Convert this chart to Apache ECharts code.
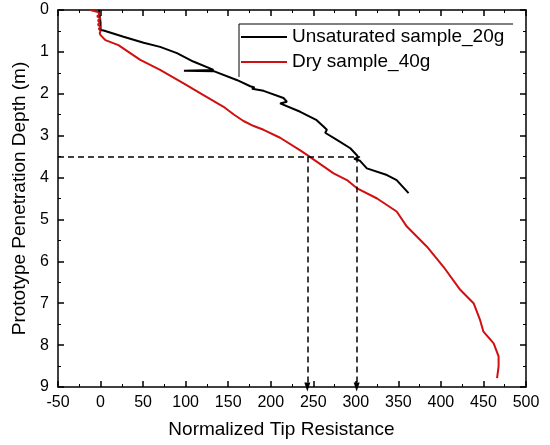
<!DOCTYPE html>
<html>
<head>
<meta charset="utf-8">
<script src="https://cdn.jsdelivr.net/npm/echarts@6/dist/echarts.min.js"></script>
<style>html,body{margin:0;padding:0;background:#fff;}#c{width:550px;height:445px;}</style>
</head>
<body>
<div id="c"></div>
<script>
// ---- data ----
const unsatName = 'Unsaturated sample_20g';
const dryName = 'Dry sample_40g';
const unsatX = [-2, 0, 0, 3.6, 27, 50.6, 70, 89.8, 109, 132.8, 98, 133, 160, 176, 181, 178, 191.6, 215, 219, 211, 234.7, 254, 262, 266, 264, 277.8, 293.5, 301, 303, 298, 305, 313, 336.6, 348, 362];
const unsatY = [0, 0.3, 0.48, 0.49, 0.64, 0.78, 0.88, 1.03, 1.23, 1.43, 1.45, 1.46, 1.67, 1.82, 1.85, 1.88, 1.93, 2.1, 2.19, 2.23, 2.43, 2.63, 2.78, 2.86, 2.93, 3.10, 3.30, 3.46, 3.52, 3.55, 3.6, 3.78, 3.94, 4.06, 4.37];
const dryX = [-12, -3, -1, -4, 0, -3, -1, -3, 0, -2, 0, -1, 0, 5.7, 21, 46.7, 70, 97.6, 121, 144.6, 157, 168, 180, 191.6, 211, 234.7, 242.6, 273.9, 289.6, 301, 325, 348, 360, 383.6, 403, 422.7, 438.4, 446, 450, 462, 467.8, 467.8, 466];
const dryY = [0, 0.05, 0.1, 0.15, 0.2, 0.25, 0.3, 0.35, 0.4, 0.45, 0.5, 0.55, 0.6, 0.72, 0.84, 1.19, 1.43, 1.75, 2.03, 2.31, 2.5, 2.65, 2.77, 2.86, 3.05, 3.35, 3.46, 3.90, 4.06, 4.25, 4.5, 4.81, 5.17, 5.65, 6.13, 6.68, 7.0, 7.40, 7.68, 7.96, 8.27, 8.51, 8.79];
const refDepth = 3.5;        // horizontal dashed reference depth
const refHLineEndX = 305;    // where horizontal dashed line ends
const refResistances = [243, 301]; // vertical dashed lines
const xMin = -50, xMax = 500, xStep = 50;
const yMin = 0, yMax = 9, yStep = 1;

const zip = (xs, ys) => xs.map((x, i) => [x, ys[i]]);
const font = 'Liberation Sans, Arial, sans-serif';

const chart = echarts.init(document.getElementById('c'));
const axisCommon = {
  type: 'value',
  axisLine: { show: true, onZero: false, lineStyle: { color: '#000', width: 1.5 } },
  axisTick: { show: true, inside: true, length: 6, lineStyle: { color: '#000', width: 1.5 } },
  minorTick: { show: true, splitNumber: 2, length: 3, lineStyle: { color: '#000', width: 1 } },
  splitLine: { show: false },
  minorSplitLine: { show: false }
};

const markData = [
  [{ coord: [xMin, refDepth], symbol: 'none' }, { coord: [refHLineEndX, refDepth], symbol: 'none' }]
].concat(refResistances.map(r => [
  { coord: [r, refDepth], symbol: 'none' }, { coord: [r, yMax], symbol: 'triangle', symbolSize: [6, 9], symbolRotate: 180 }
]));

chart.setOption({
  animation: false,
  backgroundColor: '#fff',
  grid: { left: 58, right: 24, top: 10, bottom: 58, containLabel: false },
  legend: {
    data: [unsatName, dryName],
    orient: 'vertical',
    left: 241, top: 27,
    padding: 0,
    itemGap: 5,
    itemWidth: 46, itemHeight: 2,
    icon: 'rect',
    textStyle: { fontFamily: font, fontSize: 19, color: '#000', lineHeight: 20, padding: [0, 0, 0, 0] }
  },
  graphic: [
    { type: 'line', shape: { x1: 239, y1: 24, x2: 513, y2: 24 }, style: { stroke: '#000', lineWidth: 1 } },
    { type: 'line', shape: { x1: 239, y1: 24, x2: 239, y2: 77 }, style: { stroke: '#000', lineWidth: 1 } }
  ],
  xAxis: [
    Object.assign({}, axisCommon, {
      position: 'bottom', min: xMin, max: xMax, interval: xStep,
      axisLabel: { fontFamily: font, fontSize: 16, color: '#000', margin: 8 },
      name: 'Normalized Tip Resistance', nameLocation: 'middle', nameGap: 33,
      nameTextStyle: { fontFamily: font, fontSize: 19, color: '#000', padding: [0, 21, 0, 0] }
    }),
    Object.assign({}, axisCommon, {
      position: 'top', min: xMin, max: xMax, interval: xStep,
      axisLabel: { show: false }
    })
  ],
  yAxis: [
    Object.assign({}, axisCommon, {
      position: 'left', inverse: true, min: yMin, max: yMax, interval: yStep,
      axisLabel: { fontFamily: font, fontSize: 16, color: '#000', margin: 9 },
      name: 'Prototype Penetration Depth (m)', nameLocation: 'middle', nameGap: 20,
      nameTextStyle: { fontFamily: font, fontSize: 19, color: '#000' }
    }),
    Object.assign({}, axisCommon, {
      position: 'right', inverse: true, min: yMin, max: yMax, interval: yStep,
      axisLabel: { show: false }
    })
  ],
  series: [
    {
      name: unsatName, type: 'line', data: zip(unsatX, unsatY),
      showSymbol: false, symbol: 'none', color: '#000',
      lineStyle: { color: '#000', width: 2 }, z: 3
    },
    {
      name: dryName, type: 'line', data: zip(dryX, dryY),
      showSymbol: false, symbol: 'none', color: '#d01010',
      lineStyle: { color: '#d01010', width: 2 }, z: 4
    },
    {
      name: 'ref', type: 'line', data: [], z: 5,
      markLine: {
        silent: true, symbol: ['none', 'none'],
        label: { show: false },
        lineStyle: { color: '#000', width: 1.5, type: [6, 4] },
        emphasis: { disabled: true },
        data: markData
      }
    }
  ]
});
</script>
</body>
</html>
